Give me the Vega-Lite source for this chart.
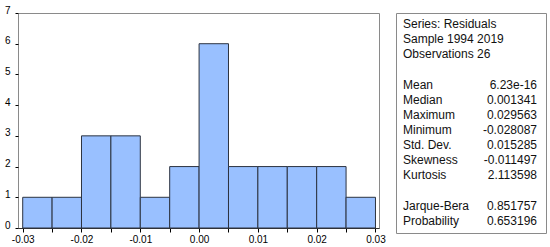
{
  "$schema": "https://vega.github.io/schema/vega-lite/v6.json",
  "background": "white",
  "padding": {"left": 3, "top": 4, "right": 0, "bottom": 0},
  "spacing": 9,
  "config": {
    "font": "Liberation Sans",
    "view": {"stroke": "#8a8a8a", "strokeWidth": 1},
    "axis": {"grid": false, "labelColor": "#000000", "labelFont": "Liberation Sans", "labelFontSize": 10, "tickColor": "#000000", "title": null}
  },
  "hconcat": [
    {
      "width": 361,
      "height": 215,
      "data": {
        "values": [
          {"bin_start": -0.030, "bin_end": -0.025, "count": 1},
          {"bin_start": -0.025, "bin_end": -0.020, "count": 1},
          {"bin_start": -0.020, "bin_end": -0.015, "count": 3},
          {"bin_start": -0.015, "bin_end": -0.010, "count": 3},
          {"bin_start": -0.010, "bin_end": -0.005, "count": 1},
          {"bin_start": -0.005, "bin_end": 0.000, "count": 2},
          {"bin_start": 0.000, "bin_end": 0.005, "count": 6},
          {"bin_start": 0.005, "bin_end": 0.010, "count": 2},
          {"bin_start": 0.010, "bin_end": 0.015, "count": 2},
          {"bin_start": 0.015, "bin_end": 0.020, "count": 2},
          {"bin_start": 0.020, "bin_end": 0.025, "count": 2},
          {"bin_start": 0.025, "bin_end": 0.030, "count": 1}
        ]
      },
      "mark": {"type": "rect", "fill": "#99c0ff", "stroke": "#2c3340", "strokeWidth": 1},
      "encoding": {
        "x": {
          "field": "bin_start", "type": "quantitative",
          "scale": {"domain": [-0.0308, 0.0306], "nice": false, "zero": false},
          "axis": {
            "values": [-0.03, -0.025, -0.02, -0.015, -0.01, -0.005, 0, 0.005, 0.01, 0.015, 0.02, 0.025, 0.03],
            "labelExpr": "abs(round(datum.value * 200)) % 2 == 0 ? replace(format(datum.value, '.2f'), '\u2212', '-') : ''",
            "labelFlush": false, "labelOverlap": false,
            "tickSize": 4, "labelPadding": 2,
            "domainColor": "#303030"
          }
        },
        "x2": {"field": "bin_end"},
        "y": {
          "field": "count", "type": "quantitative",
          "scale": {"domain": [0, 7], "nice": false},
          "axis": {
            "values": [0, 1, 2, 3, 4, 5, 6, 7],
            "labelBaseline": "alphabetic", "labelOverlap": false,
            "tickSize": 3, "labelPadding": 5,
            "domain": false
          }
        },
        "y2": {"datum": 0}
      }
    },
    {
      "width": 150,
      "height": 220,
      "data": {
        "values": [
          {"line": 0, "stat": "Series: Residuals", "value": ""},
          {"line": 1, "stat": "Sample 1994 2019", "value": ""},
          {"line": 2, "stat": "Observations 26", "value": ""},
          {"line": 4, "stat": "Mean", "value": "6.23e-16"},
          {"line": 5, "stat": "Median", "value": "0.001341"},
          {"line": 6, "stat": "Maximum", "value": "0.029563"},
          {"line": 7, "stat": "Minimum", "value": "-0.028087"},
          {"line": 8, "stat": "Std. Dev.", "value": "0.015285"},
          {"line": 9, "stat": "Skewness", "value": "-0.011497"},
          {"line": 10, "stat": "Kurtosis", "value": "2.113598"},
          {"line": 12, "stat": "Jarque-Bera", "value": "0.851757"},
          {"line": 13, "stat": "Probability", "value": "0.653196"}
        ]
      },
      "encoding": {
        "y": {"field": "line", "type": "quantitative", "scale": {"domain": [-0.741, 13.814], "reverse": true, "nice": false, "zero": false}, "axis": null}
      },
      "layer": [
        {
          "mark": {"type": "text", "align": "left", "baseline": "middle", "dx": 7, "fontSize": 12, "font": "Liberation Sans", "color": "#111111"},
          "encoding": {
            "x": {"datum": 0, "type": "quantitative", "scale": {"domain": [0, 1], "nice": false, "zero": false}, "axis": null},
            "text": {"field": "stat"}
          }
        },
        {
          "mark": {"type": "text", "align": "right", "baseline": "middle", "dx": -9, "fontSize": 12, "font": "Liberation Sans", "color": "#111111"},
          "encoding": {
            "x": {"datum": 1, "type": "quantitative"},
            "text": {"field": "value"}
          }
        }
      ]
    }
  ]
}
